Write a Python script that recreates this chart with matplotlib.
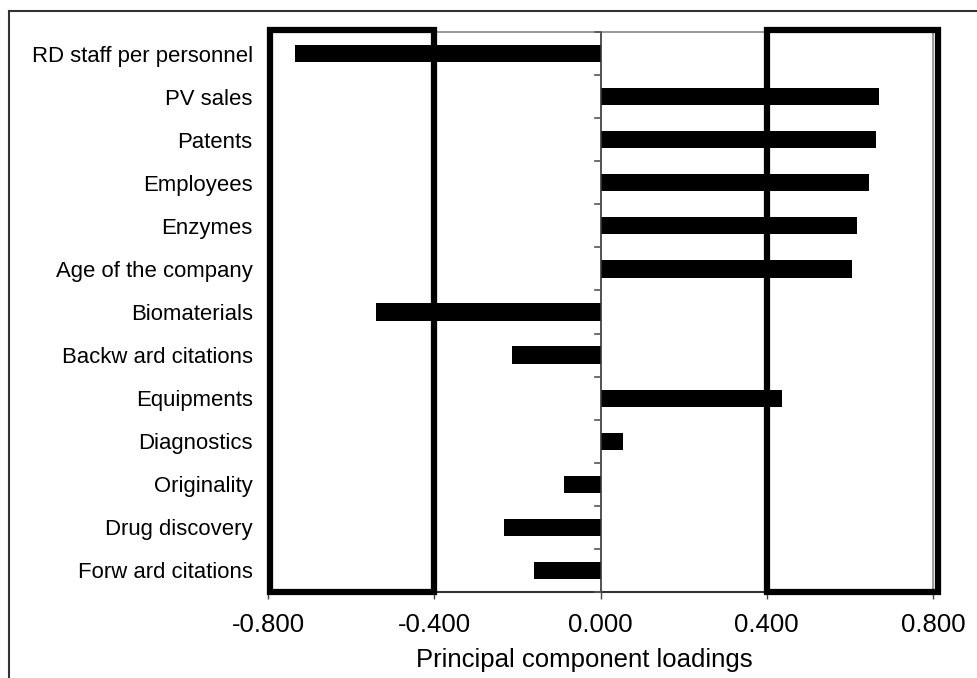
# PCA loadings bar chart
import matplotlib
matplotlib.use('Agg')
import matplotlib.pyplot as plt
from matplotlib.patches import Rectangle
from matplotlib.lines import Line2D

plt.rcParams['font.family'] = ['Liberation Sans', 'DejaVu Sans']

labels = ['RD staff per personnel', 'PV sales', 'Patents', 'Employees', 'Enzymes',
          'Age of the company', 'Biomaterials', 'Backw ard citations', 'Equipments',
          'Diagnostics', 'Originality', 'Drug discovery', 'Forw ard citations']
loadings = [-0.734, 0.671, 0.662, 0.645, 0.616, 0.606, -0.539, -0.214, 0.436,
            0.053, -0.087, -0.231, -0.159]
xticks = [-0.8, -0.4, 0.0, 0.4, 0.8]

fig = plt.figure(figsize=(9.78, 6.78), dpi=100)
ax = fig.add_axes([268/978, 86/678, 665/978, 560/678])

n = len(labels)
ypos = list(range(n))[::-1]
ax.barh(ypos, loadings, height=0.4, color='black', zorder=3)

ax.set_xlim(-0.8, 0.8)
ax.set_ylim(-0.5, n - 0.5)
ax.set_yticks(ypos)
ax.set_yticklabels(labels, fontsize=15.9)
ax.tick_params(axis='y', length=0, pad=11)
ax.set_xticks(xticks)
ax.set_xticklabels(['%.3f' % v for v in xticks], fontsize=18.5)
ax.tick_params(axis='x', length=5, width=1, color='#444444', pad=10)
ax.set_xlabel('Principal component loadings', fontsize=18.5, labelpad=8)
ax.xaxis.label.set_x(0.475)

# plot area border grey, axis line black
for s in ['top', 'right', 'left']:
    ax.spines[s].set_color('#888888')
    ax.spines[s].set_linewidth(1.2)
ax.spines['bottom'].set_color('#333333')
ax.spines['bottom'].set_linewidth(1.5)

# vertical axis at zero with tick marks between categories
ax.axvline(0, color='#333333', lw=1.2, zorder=4)
for k in range(n + 1):
    ax.plot([-0.013, 0], [k - 0.5, k - 0.5], color='#555555', lw=1.2,
            clip_on=False, zorder=4)

# thick highlight boxes
ax.add_patch(Rectangle((-0.795, -0.5), 0.395, n + 0.05, fill=False, lw=4.5,
                       edgecolor='black', clip_on=False, zorder=5))
ax.add_patch(Rectangle((0.4, -0.5), 0.413, n + 0.05, fill=False, lw=4.5,
                       edgecolor='black', clip_on=False, zorder=5))

# figure border (left and top)
fig.add_artist(Line2D([9/978, 9/978], [0, 1 - 11/678], color='#333333', lw=1.5))
fig.add_artist(Line2D([9/978, 1], [1 - 11/678, 1 - 11/678], color='#333333', lw=1.5))

fig.savefig('out.png', dpi=100)
